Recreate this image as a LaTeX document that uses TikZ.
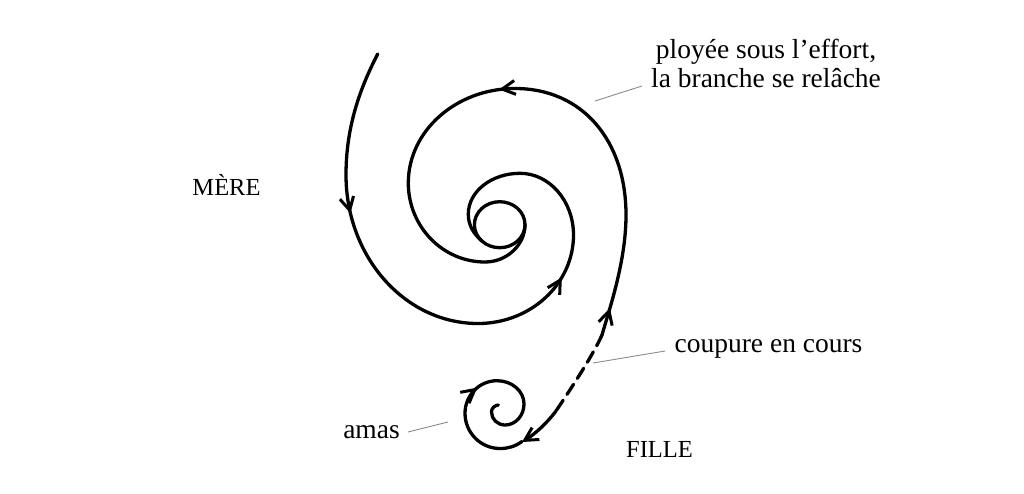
\documentclass[tikz,border=0pt]{standalone}
\usepackage{fontspec}
\setmainfont{Liberation Serif}
\usetikzlibrary{arrows.meta,decorations.markings}
\tikzset{
  barbtip/.tip={Straight Barb[length=13pt,width=14pt,line width=3pt]},
  curve/.style={line width=3.3pt, line cap=round, line join=round},
  midarrow/.style={postaction={decorate, decoration={markings, mark=at position #1 with {\arrow{barbtip}}}}},
  leader/.style={draw=black!45, line width=0.9pt},
  lbl/.style={inner sep=0pt, font=\fontsize{27.5pt}{29pt}\selectfont},
  caplbl/.style={inner sep=0pt, font=\fontsize{24.5pt}{28pt}\selectfont}
}
\begin{document}
\begin{tikzpicture}[x=1pt,y=-1pt]
\fill[white] (0,0) rectangle (1024,493);
\useasboundingbox (0,0) rectangle (1024,493);

% labels
\node[lbl, align=center] (ploy) at (766,63) {ployée sous l’effort,\\la branche se relâche};
\node[lbl, anchor=base] (coup) at (768.5,352) {coupure en cours};
\node[lbl, anchor=base] (amas) at (371.5,438) {amas};
\node[caplbl, anchor=base] (mere) at (226.5,195) {MÈRE};
\node[caplbl, anchor=base] (fille) at (659.5,457) {FILLE};

% leader lines
\coordinate (lp1) at (642,86);  \coordinate (lp2) at (595,101);
\coordinate (lc1) at (665,351); \coordinate (lc2) at (593,363);
\coordinate (la1) at (408,432); \coordinate (la2) at (448,422);
\draw[leader] (lp1) -- (lp2);
\draw[leader] (lc1) -- (lc2);
\draw[leader] (la1) -- (la2);

% mother: arm A (coming in from the top left)
\draw[curve, midarrow=165pt, midarrow=447pt]
  (377.7,54) .. controls (358,92) and (346,130) .. (346,175)
  .. controls (346,257) and (405,323.5) .. (478,323.5)
  .. controls (530.7,323.5) and (573.5,283.9) .. (573.5,235)
  .. controls (573.5,201) and (549.5,173.3) .. (520,173.3)
  .. controls (491.5,173.3) and (468.3,191.5) .. (468.3,214)
  .. controls (468.3,226) and (473.8,233.7) .. (481.8,241);

% mother: arm B (the branch, bent under the effort)
\draw[curve, midarrow=28pt, midarrow=328pt]
  (602,335) .. controls (609,310) and (626,262) .. (626,215)
  .. controls (626,140) and (582,88.5) .. (515,88.5)
  .. controls (456,88.5) and (408.3,131) .. (408.3,183)
  .. controls (408.3,226.6) and (442.7,262) .. (485,262)
  .. controls (507,262) and (525,244.7) .. (525,224.7);

% core
\draw[curve] (499.7,224.7) ellipse [x radius=25.3pt, y radius=23pt];

% cut in progress
\coordinate (cutA) at (602,335);
\coordinate (cutB) at (556,411);
\coordinate (cutC) at (522,442);
\draw[curve, dash pattern=on 12pt off 7pt] (cutA) .. controls (592,357) and (570,390) .. (cutB);
\draw[curve, -{barbtip}] (cutB) .. controls (547,423) and (535,434) .. (cutC);

% daughter spiral
\draw[curve, midarrow=108pt]
  (522,441.5) .. controls (515,446.5) and (508,448.5) .. (500,448.5)
  .. controls (480.7,448.5) and (465,432.7) .. (465,413.3)
  .. controls (465,395.3) and (479.3,380.7) .. (497,380.7)
  .. controls (512,380.7) and (524,391.1) .. (524,404)
  .. controls (524,415.6) and (515.5,425) .. (505,425)
  .. controls (497.5,425) and (491.5,419.2) .. (491.5,412)
  .. controls (491.5,408) and (494.5,405.5) .. (498.3,405);
\end{tikzpicture}
\end{document}
